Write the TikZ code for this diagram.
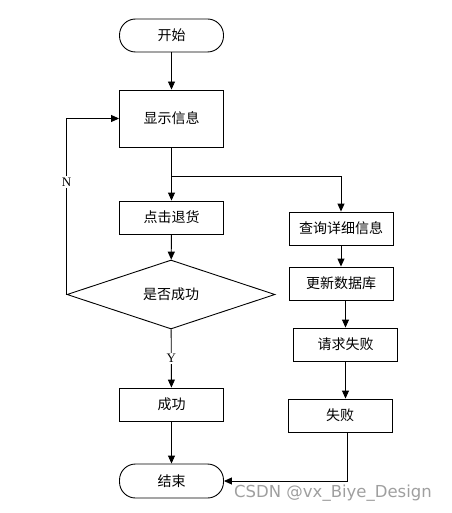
\documentclass[tikz,border=0pt]{standalone}
\usepackage{fontspec}
\setmainfont{Liberation Serif}
\newfontfamily\cjk{Noto Sans CJK SC}
\newfontfamily\wmfont{DejaVu Sans}
\usetikzlibrary{shapes.geometric,arrows.meta}
\begin{document}
\begin{tikzpicture}[
      x=1pt, y=-1pt,
      font=\cjk\fontsize{14}{16}\selectfont,
      line width=0.9pt,
      >={Triangle[length=8pt,width=7pt]},
      box/.style={draw, rectangle, minimum width=104pt, minimum height=33pt, inner sep=0pt},
      term/.style={draw, rectangle, rounded corners=16pt, minimum width=104pt, minimum height=33pt, inner sep=0pt},
      decision/.style={draw, diamond, minimum width=208pt, minimum height=55pt, inner sep=0pt},
      tag/.style={font=\rmfamily\fontsize{13}{15}\selectfont, fill=white, inner sep=1.5pt}
    ]
      \useasboundingbox (0,0) rectangle (451,513);

      \node (start)  at (171.5,35.5)  [term] {开始};
      \node (show)   at (171.5,118.5) [box, minimum height=57pt] {显示信息};
      \node (ret)    at (171.5,217.5) [box] {点击退货};
      \node (judge)  at (171,294.5)   [decision] {是否成功};
      \node (ok)     at (171.5,404.5) [box] {成功};
      \node (finish) at (171.5,481)   [term, minimum height=34pt] {结束};

      \node (query)  at (341,228.5)   [box] {查询详细信息};
      \node (update) at (341,283.5)   [box] {更新数据库};
      \node (req)    at (345.5,344.5) [box] {请求失败};
      \node (fail)   at (340,415.5)   [box] {失败};

      \coordinate (split) at (171.5,176);

      \draw[->] (start) -- (show);
      \draw[->] (show) -- (ret);
      \draw[->] (split) -| (query);
      \draw[->] (ret) -- (judge);
      \draw[->] (judge.west) |- node[tag, pos=0.32] {N} (show.west);
      \draw[->] (judge) -- node[tag] {Y} (ok);
      \draw[->] (ok) -- (finish);
      \draw[->] (query) -- (update);
      \draw[->] (req.south) -- (req.south |- fail.north);
      \draw[->] (update.south -| req.south) -- (req);
      \draw[->] ([xshift=7pt]fail.south) |- (finish.east);

      \node (mark) at (333,493) [text=gray!75, font=\wmfont\fontsize{16.5}{18}\selectfont] {CSDN @vx\_Biye\_Design};
    \end{tikzpicture}
\end{document}
